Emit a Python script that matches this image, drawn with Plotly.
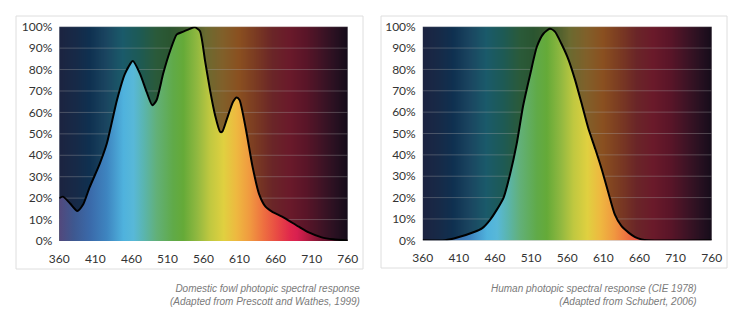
import numpy as np
import plotly.graph_objects as go

# ---------------- data ----------------
fowl_nm = [360, 365, 375, 385, 393, 402, 416, 426, 440, 451, 462, 472, 481, 489, 495, 504,
           514, 523, 532, 541, 548, 555, 562, 569, 576, 583, 586, 592, 601, 606, 610, 619,
           628, 637, 646, 655, 669, 692, 706, 724, 740, 760]
fowl_resp = [0.200, 0.207, 0.175, 0.140, 0.170, 0.250, 0.360, 0.456, 0.658, 0.780, 0.840, 0.780,
             0.697, 0.633, 0.658, 0.780, 0.890, 0.964, 0.977, 0.990, 0.997, 0.980, 0.844, 0.705,
             0.588, 0.510, 0.510, 0.565, 0.650, 0.670, 0.658, 0.518, 0.347, 0.220, 0.160, 0.137,
             0.114, 0.067, 0.040, 0.017, 0.008, 0.002]

human_nm = [360, 391, 409, 432, 442, 453, 462, 472, 481, 490, 499, 509, 518, 527, 536, 543,
            552, 562, 571, 580, 589, 599, 608, 617, 626, 635, 645, 654, 663, 672, 760]
human_resp = [0.000, 0.000, 0.014, 0.040, 0.056, 0.095, 0.140, 0.200, 0.310, 0.450, 0.630, 0.780,
              0.906, 0.967, 0.990, 0.977, 0.920, 0.844, 0.750, 0.640, 0.527, 0.426, 0.330, 0.223,
              0.120, 0.067, 0.036, 0.015, 0.004, 0.000, 0.000]

x_ticks = [360, 410, 460, 510, 560, 610, 660, 710, 760]
y_ticks = [0, 0.1, 0.2, 0.3, 0.4, 0.5, 0.6, 0.7, 0.8, 0.9, 1.0]
y_labels = ["0%", "10%", "20%", "30%", "40%", "50%", "60%", "70%", "80%", "90%", "100%"]

captions = [
    "Domestic fowl photopic spectral response<br>(Adapted from Prescott and Wathes, 1999)",
    "Human photopic spectral response (CIE 1978)<br>(Adapted from Schubert, 2006)",
]

# spectrum colours (background above curve = dark, below curve = bright)
dark_nm = [360, 384, 402, 425, 448, 471, 494, 513, 540, 563, 586, 609, 633, 656, 679, 702, 725, 745, 760]
dark_col = ["#1c2340", "#162a48", "#0f3050", "#1a4560", "#1a5a6a", "#1d5a55", "#2a5a3a", "#2a5530",
            "#3e5a2c", "#6a6a30", "#80602a", "#8a5020", "#7a3a22", "#6a2528", "#6a1a2a", "#5a1528",
            "#3e1325", "#261020", "#150c1a"]
bright_nm = [360, 380, 403, 426, 449, 463, 477, 495, 518, 532, 551, 569, 588, 606, 625, 643, 662,
             680, 690, 705, 725, 760]
bright_col = ["#52487c", "#3e5890", "#3a6aaa", "#3e85c0", "#4fb2dd", "#58b8d8", "#5ab5b0", "#62b078",
              "#60aa48", "#65aa38", "#90b840", "#c0c840", "#e0d040", "#eeb840", "#f09840", "#ee7040",
              "#e84a44", "#e0284c", "#d82050", "#b01a40", "#701430", "#301020"]


def scale(nm, cols):
    lo, hi = nm[0], nm[-1]
    return [[(v - lo) / (hi - lo), c] for v, c in zip(nm, cols)]


dark_scale = scale(dark_nm, dark_col)
bright_scale = scale(bright_nm, bright_col)

bg_x = np.arange(360, 761, 1)

fig = go.Figure()

panels = [(fowl_nm, fowl_resp, "x", "y"), (human_nm, human_resp, "x2", "y2")]
for nm, resp, xa, ya in panels:
    fig.add_trace(go.Heatmap(x=bg_x, y=[0, 1], z=[bg_x, bg_x], zmin=360, zmax=760,
                             colorscale=dark_scale, showscale=False, hoverinfo="skip",
                             xaxis=xa, yaxis=ya))
    gx, gy = [], []
    for t in y_ticks[1:]:
        gx += [x_ticks[0], x_ticks[-1], None]
        gy += [t, t, None]
    fig.add_trace(go.Scatter(x=gx, y=gy, mode="lines",
                             line=dict(color="rgba(170,170,170,0.35)", width=1),
                             hoverinfo="skip", showlegend=False, xaxis=xa, yaxis=ya))
    fig.add_trace(go.Scatter(x=nm, y=resp, mode="lines", fill="tozeroy",
                             fillgradient=dict(type="horizontal", colorscale=bright_scale,
                                               start=360, stop=760),
                             line=dict(color="black", width=2, shape="spline", smoothing=0.6),
                             hoverinfo="skip", showlegend=False, xaxis=xa, yaxis=ya))

tickfont = dict(family="Lato, Open Sans, sans-serif", size=12, color="#333333")
ax_common = dict(range=[360, 760], tickvals=x_ticks, showgrid=False, zeroline=False,
                 showline=False, ticks="", tickfont=tickfont, fixedrange=True, automargin=False,
                 ticklabelstandoff=9)
ay_common = dict(range=[0, 1], tickvals=y_ticks, ticktext=y_labels, showgrid=False,
                 zeroline=False, showline=False, ticks="", tickfont=tickfont, fixedrange=True,
                 automargin=False, ticklabelstandoff=6)

fig.update_layout(
    width=750, height=327,
    margin=dict(l=0, r=0, t=0, b=0, autoexpand=False),
    paper_bgcolor="white", plot_bgcolor="white",
    showlegend=False,
    xaxis=dict(domain=[59.3 / 750, 347.7 / 750], anchor="y", **ax_common),
    yaxis=dict(domain=[1 - 241 / 327, 1 - 26.7 / 327], anchor="x", **ay_common),
    xaxis2=dict(domain=[422.7 / 750, 711.7 / 750], anchor="y2", **ax_common),
    yaxis2=dict(domain=[1 - 240.3 / 327, 1 - 26.7 / 327], anchor="x2", **ay_common),
    shapes=[
        dict(type="rect", xref="paper", yref="paper", x0=16 / 750, x1=363 / 750,
             y0=1 - 269 / 327, y1=1 - 16 / 327, line=dict(color="#dedede", width=1), layer="below"),
        dict(type="rect", xref="paper", yref="paper", x0=381 / 750, x1=727 / 750,
             y0=1 - 268 / 327, y1=1 - 16 / 327, line=dict(color="#dedede", width=1), layer="below"),
    ],
)

cap_font = dict(family="Liberation Sans, Arial, sans-serif", size=10, color="#7a7a7a")
for text, xr in zip(captions, [362 / 750, 699 / 750]):
    fig.add_annotation(text="<i>" + text + "</i>", xref="paper", yref="paper", x=xr,
                       y=1 - 295 / 327, xanchor="right", yanchor="middle", align="right",
                       showarrow=False, font=cap_font)

fig.write_html("out.html")
